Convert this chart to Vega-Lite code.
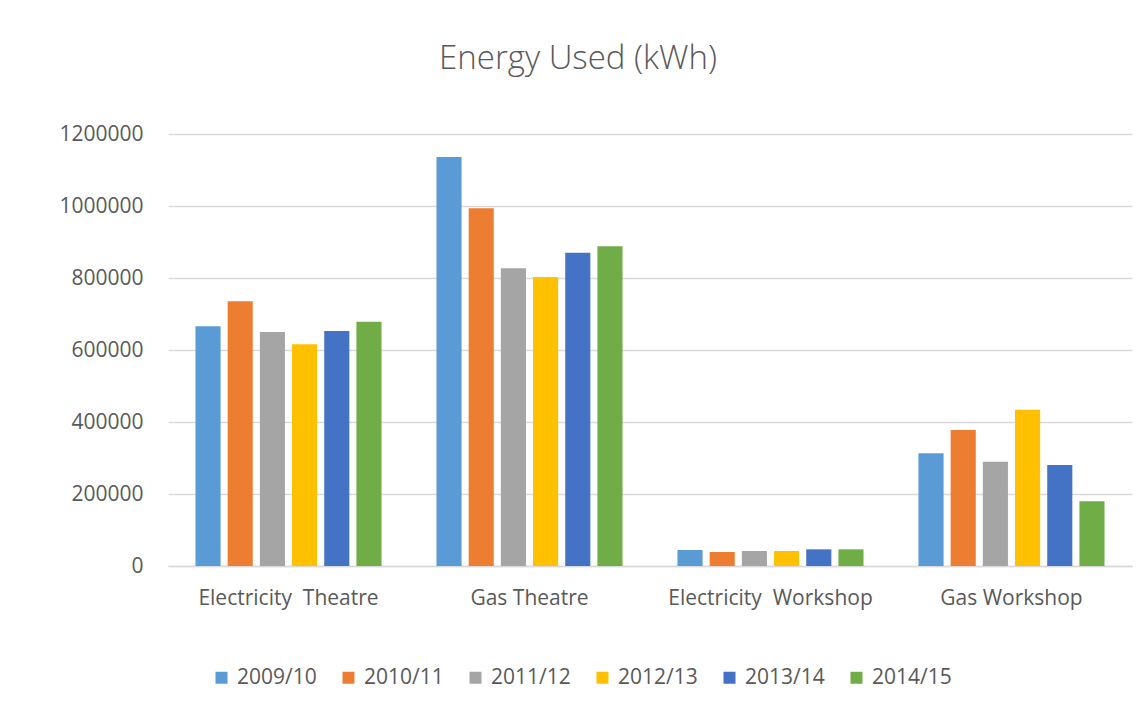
{
  "$schema": "https://vega.github.io/schema/vega-lite/v6.json",
  "autosize": {"type": "none"},
  "padding": {"left": 168, "top": 134, "right": 4, "bottom": 142},
  "width": 964,
  "height": 432,
  "background": "white",
  "title": {
    "text": "Energy Used (kWh)",
    "font": "Open Sans",
    "fontWeight": 300,
    "fontSize": 33,
    "color": "#595959",
    "anchor": "middle",
    "dx": -72,
    "baseline": "alphabetic",
    "offset": 21
  },
  "data": {
    "values": [
      {"category": "Electricity\u00a0 Theatre", "year": "2009/10", "kwh": 665800},
      {"category": "Electricity\u00a0 Theatre", "year": "2010/11", "kwh": 735200},
      {"category": "Electricity\u00a0 Theatre", "year": "2011/12", "kwh": 650000},
      {"category": "Electricity\u00a0 Theatre", "year": "2012/13", "kwh": 615700},
      {"category": "Electricity\u00a0 Theatre", "year": "2013/14", "kwh": 652800},
      {"category": "Electricity\u00a0 Theatre", "year": "2014/15", "kwh": 678700},
      {"category": "Gas Theatre", "year": "2009/10", "kwh": 1136100},
      {"category": "Gas Theatre", "year": "2010/11", "kwh": 993600},
      {"category": "Gas Theatre", "year": "2011/12", "kwh": 826900},
      {"category": "Gas Theatre", "year": "2012/13", "kwh": 802800},
      {"category": "Gas Theatre", "year": "2013/14", "kwh": 870300},
      {"category": "Gas Theatre", "year": "2014/15", "kwh": 888000},
      {"category": "Electricity\u00a0 Workshop", "year": "2009/10", "kwh": 44400},
      {"category": "Electricity\u00a0 Workshop", "year": "2010/11", "kwh": 38900},
      {"category": "Electricity\u00a0 Workshop", "year": "2011/12", "kwh": 41700},
      {"category": "Electricity\u00a0 Workshop", "year": "2012/13", "kwh": 41700},
      {"category": "Electricity\u00a0 Workshop", "year": "2013/14", "kwh": 46300},
      {"category": "Electricity\u00a0 Workshop", "year": "2014/15", "kwh": 46300},
      {"category": "Gas Workshop", "year": "2009/10", "kwh": 313000},
      {"category": "Gas Workshop", "year": "2010/11", "kwh": 377800},
      {"category": "Gas Workshop", "year": "2011/12", "kwh": 289800},
      {"category": "Gas Workshop", "year": "2012/13", "kwh": 434300},
      {"category": "Gas Workshop", "year": "2013/14", "kwh": 280600},
      {"category": "Gas Workshop", "year": "2014/15", "kwh": 179600}
    ]
  },
  "mark": {"type": "bar"},
  "encoding": {
    "x": {
      "field": "category",
      "type": "nominal",
      "sort": ["Electricity\u00a0 Theatre", "Gas Theatre", "Electricity\u00a0 Workshop", "Gas Workshop"],
      "scale": {"paddingInner": 0.228, "paddingOuter": 0.114},
      "axis": {
        "title": null,
        "labelAngle": 0,
        "ticks": false,
        "domainColor": "#d9d9d9",
        "domainWidth": 1.3,
        "labelFont": "Open Sans",
        "labelFontSize": 21,
        "labelColor": "#595959",
        "labelPadding": 32,
        "labelBaseline": "middle",
        "labelLimit": 400
      }
    },
    "xOffset": {
      "field": "year",
      "type": "nominal",
      "scale": {"paddingInner": 0.22, "paddingOuter": 0}
    },
    "y": {
      "field": "kwh",
      "type": "quantitative",
      "scale": {"domain": [0, 1200000]},
      "axis": {
        "title": null,
        "values": [0, 200000, 400000, 600000, 800000, 1000000, 1200000],
        "format": "d",
        "domain": false,
        "ticks": false,
        "gridColor": "#d9d9d9",
        "gridWidth": 1.3,
        "labelFont": "Open Sans",
        "labelFontSize": 21,
        "labelColor": "#595959",
        "labelPadding": 25
      }
    },
    "color": {
      "field": "year",
      "type": "nominal",
      "scale": {
        "domain": ["2009/10", "2010/11", "2011/12", "2012/13", "2013/14", "2014/15"],
        "range": ["#5B9BD5", "#ED7D31", "#A5A5A5", "#FFC000", "#4472C4", "#70AD47"]
      },
      "legend": {
        "title": null,
        "orient": "none",
        "direction": "horizontal",
        "columns": 6,
        "legendX": 43,
        "legendY": 533,
        "symbolType": "square",
        "symbolSize": 144,
        "symbolStrokeWidth": 0,
        "labelFont": "Open Sans",
        "labelFontSize": 21,
        "labelColor": "#595959",
        "labelOffset": 5,
        "columnPadding": 21
      }
    }
  },
  "config": {
    "view": {"stroke": null}
  }
}
